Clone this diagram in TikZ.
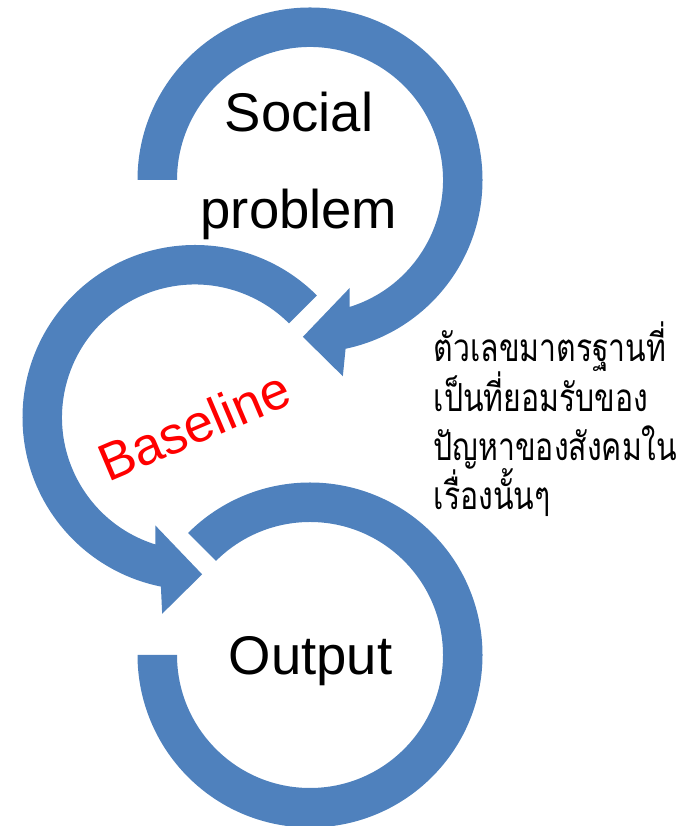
\documentclass[tikz,border=0pt]{standalone}
\usepackage{fontspec}
\setmainfont{Liberation Sans}
\newfontfamily\thaifont[Script=Thai, FakeStretch=0.78]{Loma}
\usepackage{tikz}
\usetikzlibrary{positioning}
\definecolor{ringblue}{RGB}{79,129,189}

\begin{document}
\begin{tikzpicture}[ring/.style={fill=ringblue},
	ringtext/.style={inner sep=0pt, font=\fontsize{15.5}{18}\selectfont},
	thaitext/.style={inner sep=0pt, align=left, font={\thaifont\fontsize{11}{14.06}\selectfont\lineskiplimit=-100pt}}]
	\useasboundingbox (0,0) rectangle (6.95,8.26);
	\coordinate (top) at (3.10,6.46);
	\coordinate (mid) at (1.95,4.085);
	\coordinate (bot) at (3.10,1.71);
	% top ring, head turned down and to the left
	\fill [ring, shift={(top)}] (180:1.725) arc [start angle=180, end angle=-78.1, radius=1.725] -- (-80.5:1.99) -- (-92.6:1.57) -- (-69.8:1.15) -- (-72.7:1.33) arc [start angle=-72.7, end angle=180, radius=1.33] -- cycle;
	% middle ring, runs the other way round
	\fill [ring, shift={(mid)}] (45:1.725) arc [start angle=45, end angle=258.6, radius=1.725] -- (260.5:1.99) -- (272.6:1.57) -- (249.8:1.15) -- (252.7:1.33) arc [start angle=252.7, end angle=45, radius=1.33] -- cycle;
	% bottom ring, no head
	\fill [ring, shift={(bot)}] (135:1.725) arc [start angle=135, end angle=-180, radius=1.725] -- (180:1.33) arc [start angle=-180, end angle=135, radius=1.33] -- cycle;
	\node [ringtext, anchor=base] (social) at (2.99,6.943) {Social};
	\node [ringtext, anchor=base] (problem) at (2.99,5.977) {problem};
	\node [ringtext, text=red, font=\fontsize{15}{18}\selectfont, rotate=23] (baseline) at (1.94,4.005) {Baseline};
	\node [ringtext, anchor=base] (output) at (3.105,1.51) {Output};
	% base of a multi-line node sits on its last line
	\node [thaitext, anchor=base west] (note) at (4.33,3.16) {ตัวเลขมาตรฐานที่\\เป็นที่ยอมรับของ\\ปัญหาของสังคมใน\\เรื่องนั้นๆ};
\end{tikzpicture}
\end{document}
